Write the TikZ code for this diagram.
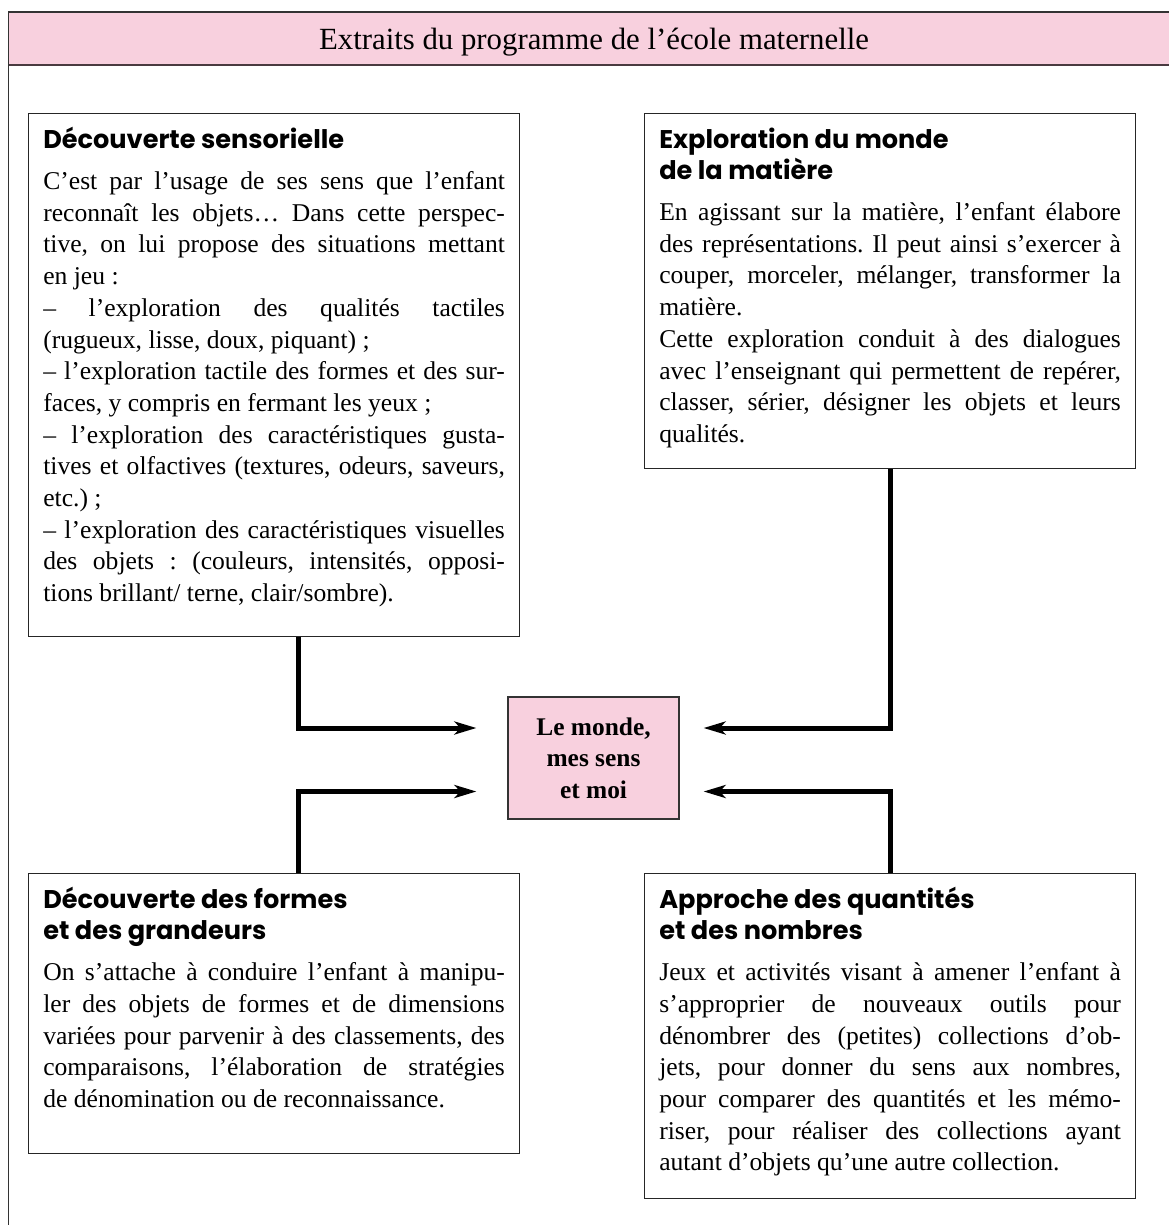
\documentclass[tikz,border=0pt]{standalone}
\usepackage{fontspec}
\setmainfont{Liberation Serif}
\newfontfamily\titrefont{Poppins}
\usetikzlibrary{positioning,arrows.meta}
\definecolor{rose}{HTML}{F8D0DE}
\definecolor{brun}{HTML}{4A3A40}
\frenchspacing
\newcommand{\encart}[3]{%
  \parbox[t][#1][t]{230.8pt}{\sloppy
    {\titrefont\bfseries\fontsize{12.8}{15.5}\selectfont
     \rule{0pt}{17.5pt}#2\par}%
    \vspace{4.65pt}%
    \fontsize{12.8}{15.85}\selectfont #3}}

\begin{document}
\begin{tikzpicture}[
        x=0.5pt, y=-0.5pt,
        cadre/.style={draw=black!85, line width=.6pt, inner xsep=7.35pt,
                      inner ysep=0pt, anchor=north west},
        centre/.style={draw=black!80, line width=.6pt, fill=rose, align=center,
                       minimum width=85.5pt, minimum height=61pt,
                       font=\bfseries\fontsize{12.7}{15.75}\selectfont},
        fleche/.style={-{Stealth[length=11pt, width=6.5pt, inset=3pt]},
                       line width=2.5pt}
    ]
    \useasboundingbox (0,0) rectangle (1168,1225);
    %% ---- frame and header ----
    \fill[rose] (8.7,12) rectangle (1190,65.5);
    \draw[line width=.75pt, black!80] (8.7,1240) -- (8.7,12) -- (1190,12);
    \draw[line width=1pt, brun] (8.7,65.5) -- (1190,65.5);
    \node[anchor=base, font=\fontsize{15.4}{18}\selectfont] (titre) at (594,50)
        {Extraits du programme de l’école maternelle};

    %% ---- four boxes ----
    \node[cadre] (sens) at (28,113) {\encart{261.5pt}{Découverte sensorielle}{%
        C’est par l’usage de ses sens que l’enfant \linebreak
        reconnaît les objets… Dans cette perspec-\linebreak
        tive, on lui propose des situations mettant \linebreak
        en jeu~:\par
        – l’exploration des qualités tactiles \linebreak
        (rugueux, lisse, doux, piquant)~;\par
        – l’exploration tactile des formes et des sur-\linebreak
        faces, y compris en fermant les yeux~;\par
        – l’exploration des caractéristiques gusta-\linebreak
        tives et olfactives (textures, odeurs, saveurs, \linebreak
        etc.)~;\par
        – l’exploration des caractéristiques visuelles \linebreak
        des objets~: (couleurs, intensités, opposi-\linebreak
        tions brillant/ terne, clair/sombre).}};

    \node[cadre] (matiere) at (644,113) {\encart{177.5pt}{Exploration du monde\\ de la matière}{%
        En agissant sur la matière, l’enfant élabore \linebreak
        des représentations. Il peut ainsi s’exercer à \linebreak
        couper, morceler, mélanger, transformer la \linebreak
        matière.\par
        Cette exploration conduit à des dialogues \linebreak
        avec l’enseignant qui permettent de repérer, \linebreak
        classer, sérier, désigner les objets et leurs \linebreak
        qualités.}};

    \node[cadre] (formes) at (28,873) {\encart{140pt}{Découverte des formes\\ et des grandeurs}{%
        On s’attache à conduire l’enfant à manipu-\linebreak
        ler des objets de formes et de dimensions \linebreak
        variées pour parvenir à des classements, des \linebreak
        comparaisons, l’élaboration de stratégies \linebreak
        de dénomination ou de reconnaissance.}};

    \node[cadre] (nombres) at (644,873) {\encart{162.5pt}{Approche des quantités\\ et des nombres}{%
        Jeux et activités visant à amener l’enfant à \linebreak
        s’approprier de nouveaux outils pour \linebreak
        dénombrer des (petites) collections d’ob-\linebreak
        jets, pour donner du sens aux nombres, \linebreak
        pour comparer des quantités et les mémo-\linebreak
        riser, pour réaliser des collections ayant \linebreak
        autant d’objets qu’une autre collection.}};

    %% ---- centre and arrows ----
    \node[centre] (monde) at (593.5,758) {Le monde,\\ mes sens\\ et moi};

    \draw[fleche] ([xshift=12pt]sens.south) |- ([xshift=-15.5pt, yshift=15pt]monde.west);
    \draw[fleche] (matiere.south) |- ([xshift=12pt, yshift=15pt]monde.east);
    \draw[fleche] ([xshift=12pt]formes.north) |- ([xshift=-15.5pt, yshift=-16.75pt]monde.west);
    \draw[fleche] (nombres.north) |- ([xshift=12pt, yshift=-16.75pt]monde.east);
\end{tikzpicture}
\end{document}
